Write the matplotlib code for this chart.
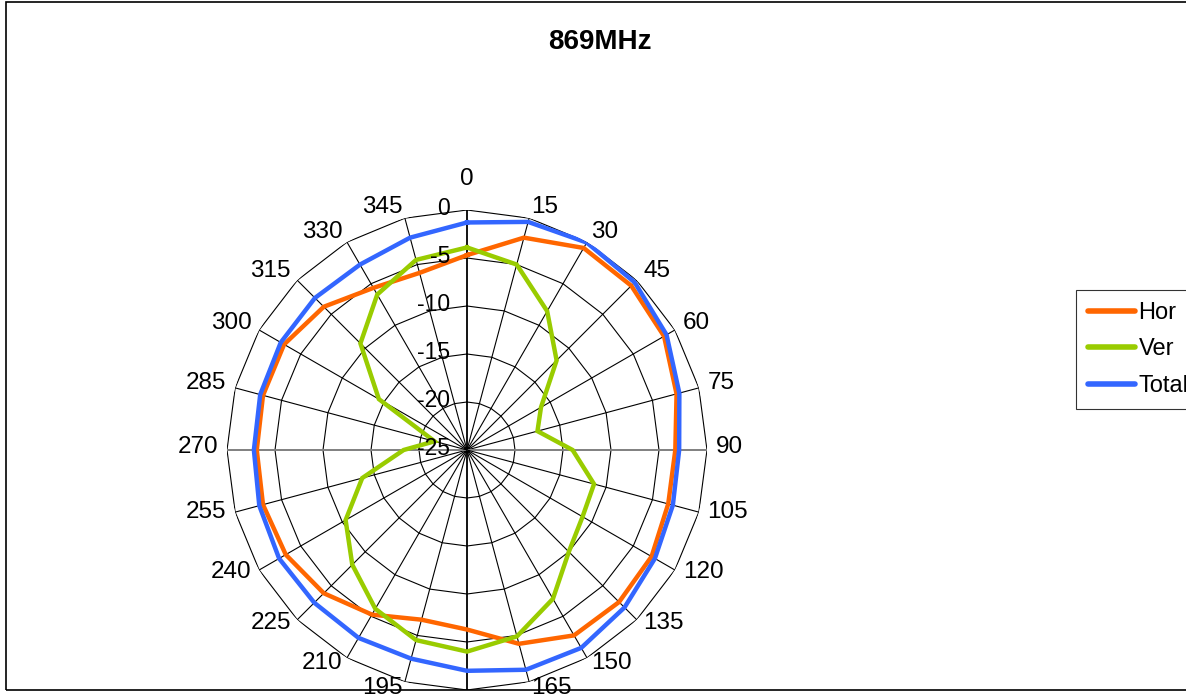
import numpy as np
import matplotlib
matplotlib.use("Agg")
import matplotlib.pyplot as plt
from matplotlib.patches import Rectangle

plt.rcParams['font.family'] = ['Liberation Sans', 'DejaVu Sans']

# angles in degrees, values in dB
angles = list(range(0, 360, 15))
hor = [-4.7, -2.1, -0.7, -0.8, -1.3, -2.4, -3.3, -3.3, -2.8, -2.6, -2.7, -4.1,
       -6.3, -6.7, -5.2, -3.9, -3.2, -3.0, -3.1, -3.0, -3.0, -3.9, -5.5, -5.9]
ver = [-3.9, -5.0, -8.3, -11.8, -16.1, -17.4, -14.0, -11.3, -11.1, -10.0, -7.1, -4.9,
       -4.0, -4.5, -5.9, -8.1, -10.4, -13.7, -18.4, -21.5, -14.4, -9.3, -6.3, -4.5]
total = [-1.3, -0.4, -0.05, -0.3, -1.0, -2.1, -2.9, -2.8, -2.4, -1.8, -1.2, -1.3,
         -2.0, -2.5, -2.4, -2.5, -2.4, -2.6, -2.8, -2.7, -2.6, -2.6, -2.7, -2.1]
rings = [-25, -20, -15, -10, -5, 0]
series = ['Hor', 'Ver', 'Total']
colors = ['#FF6600', '#99CC00', '#3366FF']

W, H = 1186, 696
fig = plt.figure(figsize=(W / 100, H / 100), dpi=100)
cx, cy, R = 467, 450, 240
ax = fig.add_axes([(cx - R) / W, (H - cy - R) / H, 2 * R / W, 2 * R / H], projection='polar')
ax.set_theta_zero_location('N')
ax.set_theta_direction(-1)
ax.set_ylim(-25, 0)
ax.grid(False)
ax.set_xticks([])
ax.set_yticks([])
ax.spines['polar'].set_visible(False)
ax.patch.set_alpha(0)

th = np.deg2rad(angles + [360])

# polygon grid
for v in rings[1:]:
    ax.plot(th, [v] * len(th), color='black', lw=0.8, zorder=1)
for a in angles:
    t = np.deg2rad(a)
    if a in (90, 270):
        ax.plot([t, t], [-25, 0], color='#808080', lw=1.4, zorder=1)
    elif a in (0, 180):
        ax.plot([t, t], [-25, 0], color='black', lw=1.3, zorder=1)
    else:
        ax.plot([t, t], [-25, 0], color='black', lw=0.8, zorder=1)

for name, vals, c in zip(series, [hor, ver, total], colors):
    ax.plot(th, vals + vals[:1], color=c, lw=3.2, label=name, zorder=3,
            solid_joinstyle='miter')

px_per_db = R / 25.0
r_lab = -25 + 249 / px_per_db
# angle labels outside the outer ring
for a in angles:
    s = np.sin(np.deg2rad(a))
    if abs(s) < 1e-6:
        ha = 'center'
        dy = 16 if a == 0 else -16
    else:
        ha = 'left' if s > 0 else 'right'
        dy = 2
    ax.annotate(str(a), xy=(np.deg2rad(a), r_lab), xytext=(0, dy),
                textcoords='offset points', ha=ha, va='center',
                fontsize=17.5, zorder=5, annotation_clip=False)

# value labels along the 0 degree axis
for v in rings:
    ax.annotate(str(v), xy=(0, v), xytext=(-12, 1), textcoords='offset points',
                ha='right', va='center', fontsize=16.5, zorder=5, annotation_clip=False)

fig.text(600 / W, 1 - 42 / H, '869MHz', ha='center', va='center',
         fontsize=20, fontweight='bold')

leg = fig.legend(loc='upper left', bbox_to_anchor=(1076 / W, 1 - 290 / H),
                 fontsize=17, frameon=True, fancybox=False, edgecolor='black',
                 handlelength=2.0, handletextpad=0.15, labelspacing=0.62,
                 borderpad=0.5, borderaxespad=0)
leg.get_frame().set_linewidth(0.8)
for line in leg.get_lines():
    line.set_linewidth(4)
    line.set_solid_capstyle('round')

fig.add_artist(Rectangle((6 / W, (H - 690) / H), 1.2, (690 - 2) / H,
                         transform=fig.transFigure, fill=False,
                         edgecolor='black', lw=1.2))

fig.savefig('out.png', dpi=100)
